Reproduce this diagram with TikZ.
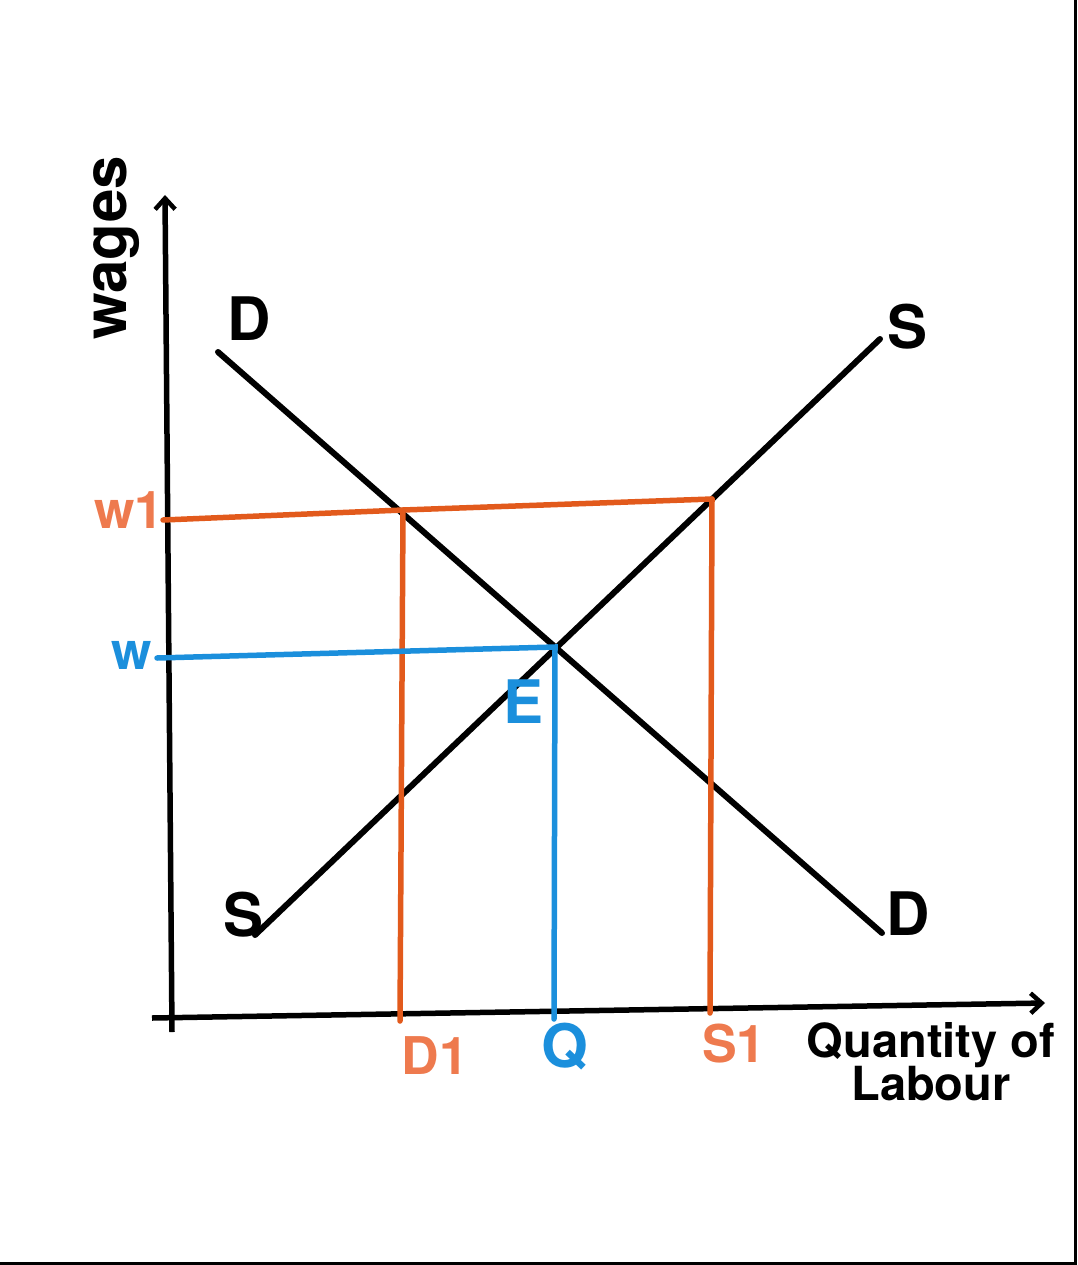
\documentclass[tikz,border=0pt]{standalone}
\usepackage{fontspec}
\setmainfont{TeX Gyre Heros}
\usetikzlibrary{arrows.meta}
\definecolor{lineorange}{HTML}{E25A1C}
\definecolor{labelorange}{HTML}{EE7A4E}
\definecolor{eqblue}{HTML}{1B8FDC}
\tikzset{
  axis/.style={line width=5.5pt, black, -{Straight Barb[length=11pt,width=20pt,line width=4.5pt]}},
  curve/.style={line width=6pt, black, line cap=round},
  redline/.style={line width=5.5pt, lineorange, line cap=round},
  blueline/.style={line width=5.5pt, eqblue, line cap=round},
  biglbl/.style={font=\bfseries\fontsize{60}{60}\selectfont, inner sep=0pt},
  midlbl/.style={font=\bfseries\fontsize{52}{52}\selectfont, inner sep=0pt},
  axlbl/.style={font=\bfseries\fontsize{47}{47}\selectfont, inner sep=0pt, align=center},
}
\begin{document}
\begin{tikzpicture}[x=1pt,y=-1pt]
\useasboundingbox (0,0) rectangle (1077,1265);
% frame lines (right and bottom)
\coordinate (fr1) at (1075,0);
\coordinate (fr2) at (1075,1263);
\coordinate (fr3) at (0,1263);
\draw[line width=3pt] (fr1) -- (fr2) -- (fr3);

% axes
\coordinate (yb) at (172,1032);
\coordinate (yt) at (165,195);
\coordinate (xl) at (152,1018);
\coordinate (xr) at (1045,1003);
\draw[axis] (yb) -- (yt);
\draw[axis] (xl) -- (xr);

% demand and supply
\coordinate (d1) at (218,352);
\coordinate (d2) at (882,933);
\coordinate (s1) at (255,935);
\coordinate (s2) at (880,339);
\draw[curve] (d1) -- (d2);
\draw[curve] (s1) -- (s2);

% w1 level (orange)
\coordinate (w1a) at (163,520);
\coordinate (w1d) at (403,510);
\coordinate (w1s) at (712,499);
\coordinate (d1b) at (400,1021);
\coordinate (s1b) at (710,1013);
\draw[redline] (w1a) -- (w1d) -- (w1s);
\draw[redline] (w1d) -- (d1b);
\draw[redline] (w1s) -- (s1b);

% equilibrium (blue)
\coordinate (wa) at (157,658);
\coordinate (eq) at (555,647);
\coordinate (qb) at (554,1019);
\draw[blueline] (wa) -- (eq) -- (qb);

% labels
\node[biglbl] (Dtop) at (249,319) {D};
\node[biglbl] (Dbot) at (908,914) {D};
\node[biglbl] (Stop) at (907,327) {S};
\node[biglbl] (Sbot) at (244,915) {S};
\node[biglbl, eqblue] (E) at (524,702) {E};
\node[midlbl, labelorange] (w1lbl) at (129,510) {w1};
\node[midlbl, eqblue] (wlbl) at (132,655) {w};
\node[midlbl, labelorange] (D1lbl) at (435,1056) {D1};
\node[biglbl, eqblue] (Qlbl) at (565,1047) {Q};
\node[midlbl, labelorange] (S1lbl) at (734,1044) {S1};
\node[axlbl] (qtylbl) at (931,1062) {Quantity of\\[-4pt]Labour};
\node[biglbl, rotate=90] (wages) at (117,248) {wages};
\end{tikzpicture}
\end{document}
